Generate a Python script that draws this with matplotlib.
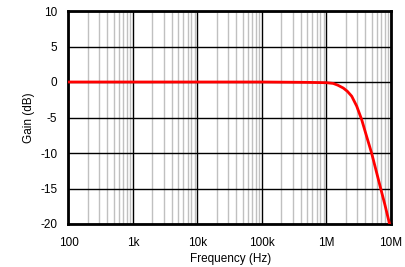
import numpy as np
import matplotlib
matplotlib.use('Agg')
import matplotlib.pyplot as plt
from matplotlib.ticker import FixedLocator, LogLocator, NullFormatter

# values
freq_hz = [100, 1e3, 1e4, 1e5, 5e5, 1e6, 1.27e6, 1.5e6, 1.82e6, 2.1e6, 2.46e6,
           2.94e6, 3.51e6, 4.2e6, 5.0e6, 6.0e6, 6.92e6, 8.0e6, 9.5e6]
gain_db = [0.0, 0.0, 0.0, 0.0, -0.05, -0.1, -0.2, -0.45, -0.85, -1.3, -2.0,
           -3.4, -5.3, -7.7, -10.0, -12.8, -15.0, -17.2, -20.0]

x_ticks = [100, 1e3, 1e4, 1e5, 1e6, 1e7]
x_labels = ['100', '1k', '10k', '100k', '1M', '10M']
y_ticks = [-20, -15, -10, -5, 0, 5, 10]

plt.rcParams['font.family'] = ['Liberation Sans', 'DejaVu Sans']
plt.rcParams['font.size'] = 8.5
plt.rcParams['axes.unicode_minus'] = False

fig = plt.figure(figsize=(4.06, 2.67), dpi=100)
ax = fig.add_axes([68.5 / 406, 1 - 224 / 267, (391 - 68.5) / 406, (224 - 11) / 267])

ax.set_xscale('log')
ax.set_xlim(100, 1e7)
ax.set_ylim(-20, 10)

ax.xaxis.set_major_locator(FixedLocator(x_ticks))
ax.set_xticklabels(x_labels)
ax.xaxis.set_minor_locator(LogLocator(base=10, subs=np.arange(2, 10)))
ax.xaxis.set_minor_formatter(NullFormatter())
ax.set_yticks(y_ticks)

ax.grid(which='minor', axis='x', color='#c0c0c0', linewidth=1)
ax.grid(which='major', color='black', linewidth=1)
ax.set_axisbelow(True)

ax.tick_params(which='both', length=0, labelsize=8.5)
ax.tick_params(axis='x', pad=9)
ax.tick_params(axis='y', pad=8)

for s in ax.spines.values():
    s.set_linewidth(2)

ax.plot(freq_hz, gain_db, color='#ff0000', linewidth=2, clip_on=True, zorder=3)

# axis titles placed where the reference has them
fig.text(230.5 / 406, 1 - 259 / 267, 'Frequency (Hz)', ha='center', va='center', fontsize=8.5)
fig.text(29 / 406, 1 - 118 / 267, 'Gain (dB)', ha='center', va='center', rotation=90, fontsize=8.5)

fig.savefig('out.png', dpi=100)
